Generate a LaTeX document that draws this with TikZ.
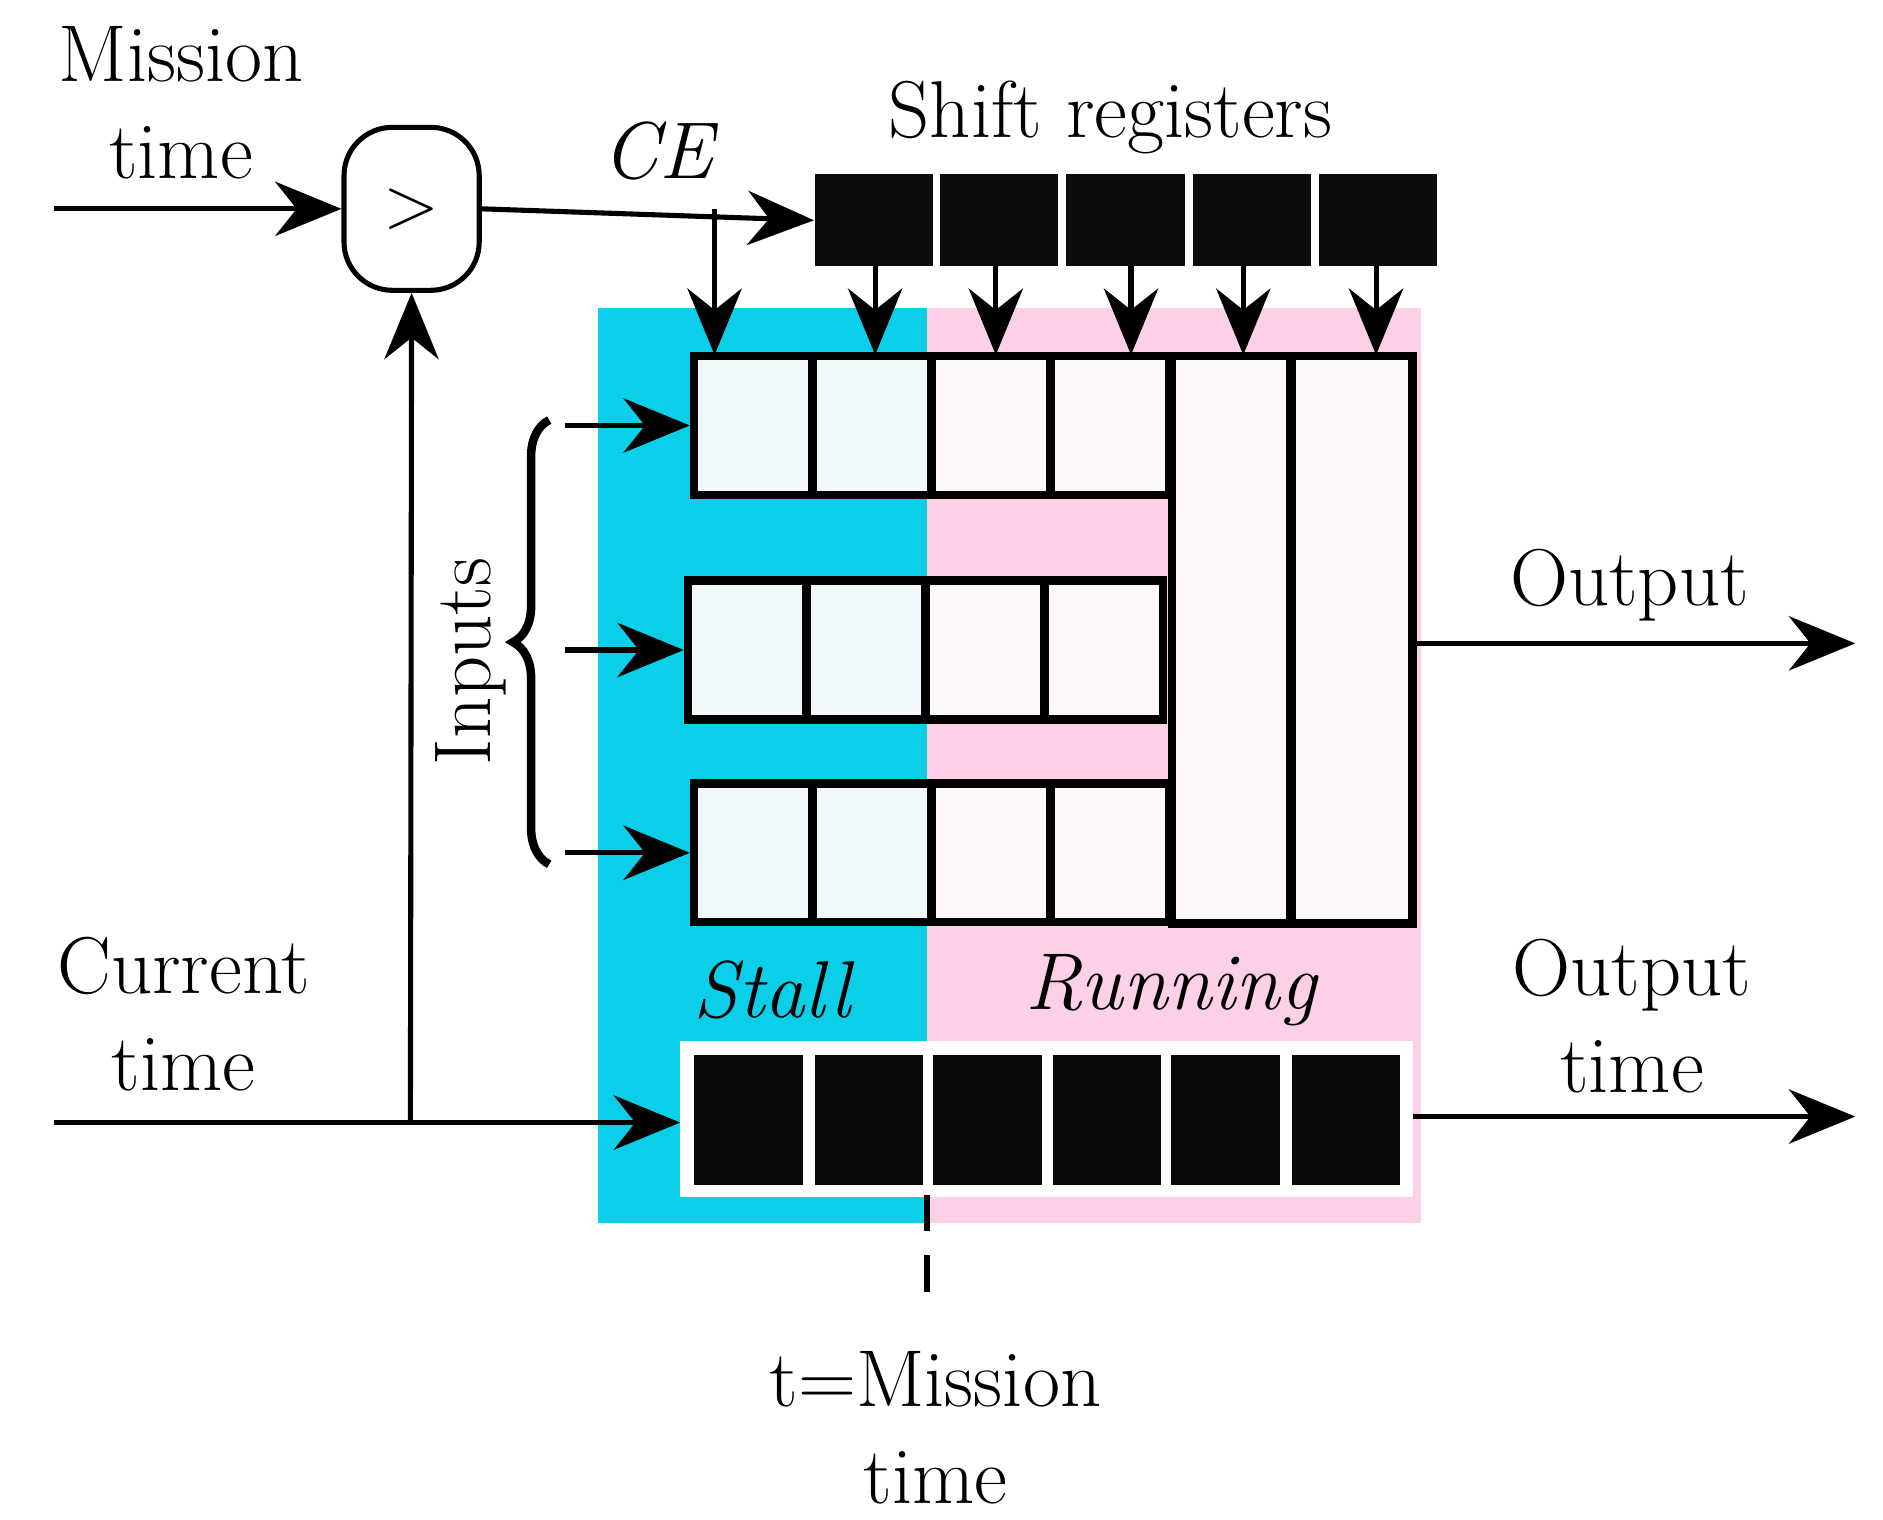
\documentclass[tikz,border=0pt]{standalone}
\usepackage{amsmath}
\usetikzlibrary{arrows.meta,positioning,decorations.pathreplacing}
\definecolor{stallc}{HTML}{0BCFE8}
\definecolor{runc}{HTML}{FDD0E8}
\definecolor{stallcell}{HTML}{F0F8FB}
\definecolor{runcell}{HTML}{FFF8FB}
\tikzset{
  wire/.style={line width=1.2pt},
  arr/.style={wire,-{Stealth[length=5.5mm,width=4.5mm]}},
  cell/.style={draw=black,line width=2pt,minimum width=0.98cm,minimum height=1.15cm,inner sep=0pt},
  reg/.style={fill=black!95,minimum width=0.98cm,minimum height=0.76cm,inner sep=0pt},
  tcell/.style={fill=black!97,minimum width=0.9cm,minimum height=1.08cm,inner sep=0pt},
  lbl/.style={font=\fontsize{19}{23}\selectfont,align=center}
}
\begin{document}
\begin{tikzpicture}[x=1cm,y=-1cm]
  \useasboundingbox (0,0) rectangle (15.6,12.585);
  % background regions
  \fill[stallc] (4.95,2.55) rectangle (7.68,10.13);
  \fill[runc] (7.68,2.55) rectangle (11.77,10.13);
  % comparator
  \node[draw,wire,rounded corners=4mm,minimum width=1.12cm,minimum height=1.35cm,lbl] (cmp) at (3.41,1.73) {$>$};
  \node[lbl] (mt) at (1.5,0.85) {Mission\\time};
  \coordinate (mtin) at (0.45,1.73);
  \draw[arr] (mtin) -- (cmp);
  % shift registers
  \foreach \x [count=\i] in {7.24,8.275,9.325,10.375,11.415}
    \node[reg] (s\i) at (\x,1.825) {};
  \node[lbl] (slbl) at (9.2,0.97) {Shift registers};
  \node[lbl,font=\fontsize{19}{23}\selectfont\itshape] (ce) at (5.45,1.25) {CE};
  \coordinate (br) at (5.92,1.73);
  \draw[arr] (cmp.east) -- (s1.west);
  \coordinate (c0) at (5.92,2.94);
  \draw[arr] (br) -- (c0);
  \foreach \x [count=\i] in {7.25,8.25,9.37,10.3,11.4}
    \draw[arr] (\x,2.2) -- (\x,2.94);
  % input rows
  \foreach \r/\xo/\y in {a/5.75/3.525,b/5.70/5.385,c/5.75/7.065} {
    \foreach \k in {0,1,2,3} {
      \pgfmathsetmacro\cx{\xo+0.49+0.985*\k}
      \ifnum\k<2 \def\cf{stallcell}\else\def\cf{runcell}\fi
      \node[cell,fill=\cf] (\r\k) at (\cx,\y) {};
    }
    \coordinate (\r in) at (4.68,\y);
    \draw[arr] (\r in) -- (\r0.west);
  }
  \node[cell,fill=runcell,minimum height=4.7cm] (o1) at (10.2,5.3) {};
  \node[cell,fill=runcell,minimum height=4.7cm,minimum width=1cm] (o2) at (11.2,5.3) {};
  \draw[line width=2pt,decorate,decoration={brace,amplitude=3mm}] (4.55,7.16) -- (4.55,3.48);
  \node[lbl,rotate=90] (inp) at (3.9,5.48) {Inputs};
  \coordinate (oout) at (15.37,5.33);
  \draw[arr] (o2.east |- oout) -- (oout);
  \node[lbl] (olbl) at (13.5,4.85) {Output};
  % time register
  \node[draw=white,line width=2pt,fill=white,minimum width=6cm,minimum height=1.22cm,inner sep=0pt] (treg) at (8.67,9.27) {};
  \foreach \x [count=\i] in {6.2,7.2,8.18,9.17,10.15,11.15}
    \node[tcell] (t\i) at (\x,9.28) {};
  \node[lbl,font=\fontsize{19}{23}\selectfont\itshape] (stall) at (6.4,8.2) {Stall};
  \node[lbl,font=\fontsize{19}{23}\selectfont\itshape] (run) at (9.7,8.2) {Running};
  \node[lbl] (ct) at (1.52,8.4) {Current\\time};
  \coordinate (ctin) at (0.45,9.3);
  \coordinate (ctbr) at (3.4,9.3);
  \draw[arr] (ctin) -- (treg.west |- ctin);
  \draw[arr] (ctbr) -- (cmp.south);
  \coordinate (tout) at (15.37,9.25);
  \draw[arr] (treg.east |- tout) -- (tout);
  \node[lbl] (otl) at (13.52,8.42) {Output\\time};
  % mission marker
  \coordinate (mk) at (7.68,10.88);
  \draw[wire,dashed,line width=1.5pt,dash pattern=on 3mm off 2mm] (7.68,9.9) -- (mk);
  \node[lbl] (tm) at (7.75,11.83) {t=Mission\\time};
\end{tikzpicture}
\end{document}
